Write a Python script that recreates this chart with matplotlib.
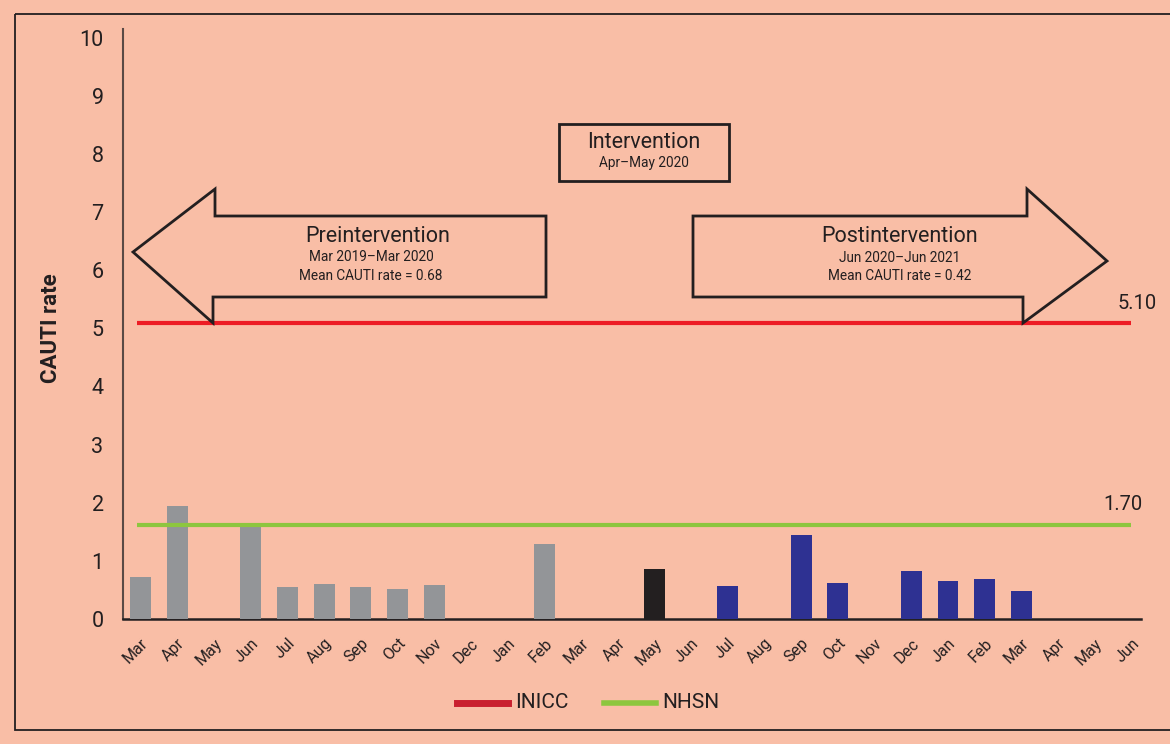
import matplotlib
matplotlib.use("Agg")
import matplotlib.pyplot as plt
from matplotlib.patches import Polygon, Rectangle
from matplotlib.lines import Line2D
from matplotlib.transforms import Affine2D

# ---------------- data ----------------
months = ["Mar", "Apr", "May", "Jun", "Jul", "Aug", "Sep", "Oct", "Nov", "Dec",
          "Jan", "Feb", "Mar", "Apr", "May", "Jun", "Jul", "Aug", "Sep", "Oct",
          "Nov", "Dec", "Jan", "Feb", "Mar", "Apr", "May", "Jun"]
cauti_rate = [0.72, 1.94, 0.0, 1.62, 0.55, 0.60, 0.55, 0.52, 0.58, 0.0,
              0.0, 1.29, 0.0, 0.0, 0.86, 0.0, 0.57, 0.0, 1.45, 0.62,
              0.0, 0.83, 0.65, 0.69, 0.48, 0.0, 0.0, 0.0]
phase = ["pre"] * 14 + ["int"] + ["post"] * 13
inicc_rate = 5.09
inicc_label = "5.10"
nhsn_rate = 1.62
nhsn_label = "1.70"
yticks = list(range(0, 11))

BG = "#F9BEA6"
phase_colors = {"pre": "#939598", "int": "#231F20", "post": "#2E3192"}
RED = "#ED1C24"
RED_LEG = "#C9202F"
GREEN = "#8DC63F"
TXT = "#231F20"

W, H = 1170, 744
plt.rcParams['font.family'] = ['Roboto', 'DejaVu Sans']

fig = plt.figure(figsize=(W / 100, H / 100), dpi=100, facecolor=BG)

# pixel transform (top-left origin) for decorations
px = Affine2D().scale(1 / W, -1 / H).translate(0, 1) + fig.transFigure

# outer frame
fig.patches.append(Rectangle((15, 14), 1170, 716, transform=px, fill=False,
                             edgecolor=TXT, lw=1.3))

ax = fig.add_axes([123 / W, 1 - 619 / H, (1141 - 123) / W, (619 - 29) / H])
ax.set_facecolor(BG)
x = list(range(len(months)))
ax.bar(x, cauti_rate, width=0.57, color=[phase_colors[p] for p in phase], zorder=3)
ax.hlines(inicc_rate, -0.1, len(months) - 1, color=RED, lw=3, zorder=4)
ax.hlines(nhsn_rate, -0.1, len(months) - 1, color=GREEN, lw=3, zorder=4)
ax.set_xlim(-0.48, 27.26)
ax.set_ylim(0, 10.15)
ax.set_yticks(yticks)
ax.set_yticklabels([str(t) for t in yticks], fontsize=15.5, color=TXT)
ax.set_xticks(x)
ax.set_xticklabels(months, rotation=45, ha="right", rotation_mode="anchor",
                   fontsize=11.5, color=TXT)
ax.tick_params(axis="both", length=0)
ax.tick_params(axis="y", pad=14)
ax.tick_params(axis="x", pad=12)
for s in ["top", "right"]:
    ax.spines[s].set_visible(False)
ax.spines["left"].set_color("#5a4a45")
ax.spines["left"].set_linewidth(1.5)
ax.spines["bottom"].set_color(TXT)
ax.spines["bottom"].set_linewidth(1.8)
ax.set_ylabel("CAUTI rate", fontsize=16, fontweight="bold", color=TXT)
ax.yaxis.set_label_coords((62 - 123) / (1141 - 123), (619 - 328) / (619 - 29))

ax.text(len(months) - 1 + 0.7, inicc_rate + 0.18, inicc_label, fontsize=14.5,
        color=TXT, ha="right", va="bottom")
ax.text(len(months) - 1 + 0.3, nhsn_rate + 0.18, nhsn_label, fontsize=14.5,
        color=TXT, ha="right", va="bottom")

# arrows
left_arrow = [(133, 252), (215, 189), (215, 216), (546, 216), (546, 297),
              (213, 297), (213, 323)]
right_arrow = [(693, 216), (1027, 216), (1027, 189), (1107, 261), (1023, 323),
               (1023, 297), (693, 297)]
for pts in (left_arrow, right_arrow):
    fig.patches.append(Polygon(pts, closed=True, transform=px, fill=False,
                               edgecolor=TXT, lw=2, zorder=5))
fig.patches.append(Rectangle((559, 124), 170, 57, transform=px, fill=False,
                             edgecolor=TXT, lw=2))

def t(xp, yp, s, size):
    fig.text(xp, yp, s, transform=px, ha="center", va="center", fontsize=size,
             color=TXT)

t(644, 142, "Intervention", 15.5)
t(644, 163, "Apr\u2013May 2020", 9.8)
t(378, 236, "Preintervention", 15.5)
t(371, 257, "Mar 2019\u2013Mar 2020", 9.8)
t(371, 276, "Mean CAUTI rate = 0.68", 9.8)
t(900, 236, "Postintervention", 15.5)
t(900, 258, "Jun 2020\u2013Jun 2021", 9.8)
t(900, 276, "Mean CAUTI rate = 0.42", 9.8)

# legend
fig.lines.append(Line2D([457, 508], [703, 703], transform=px, color=RED_LEG, lw=5))
fig.lines.append(Line2D([604, 656], [703, 703], transform=px, color=GREEN, lw=4))
fig.text(515, 703, "INICC", transform=px, ha="left", va="center", fontsize=15, color=TXT)
fig.text(662, 703, "NHSN", transform=px, ha="left", va="center", fontsize=15, color=TXT)

fig.savefig("out.png", dpi=100, facecolor=BG)
